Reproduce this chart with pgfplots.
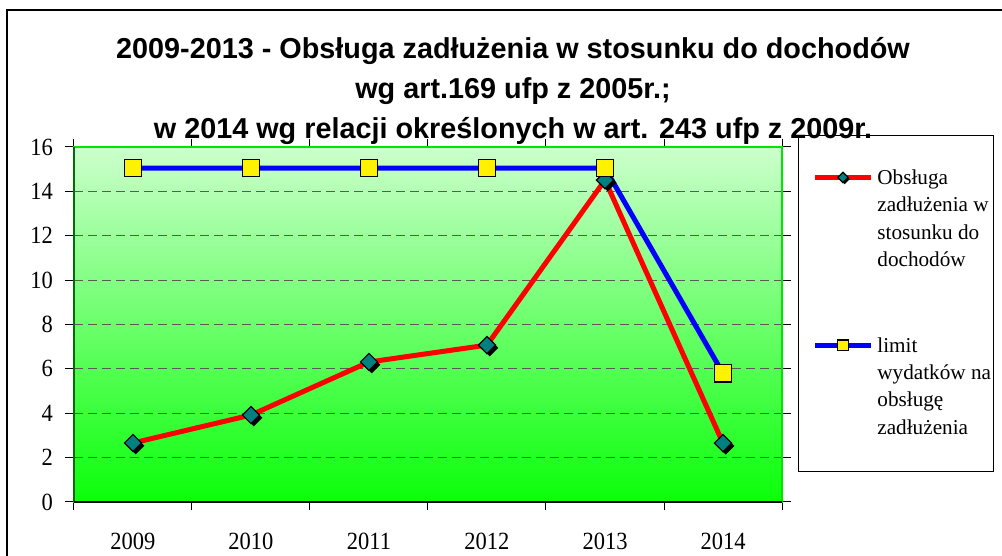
\documentclass[border=0pt]{standalone}
\usepackage{graphicx}
\usepackage{pgfplots}
\pgfplotsset{compat=1.18}
\usepackage{fontspec}
\setmainfont{Liberation Serif}
\newfontfamily\titlefont{Liberation Sans}

\definecolor{tealm}{RGB}{0,128,128}
\definecolor{bgtop}{RGB}{204,255,204}
\definecolor{bgmid}{RGB}{115,255,115}
\definecolor{bgbot}{RGB}{10,255,10}
\definecolor{frameg}{RGB}{0,230,0}
\definecolor{leftg}{RGB}{0,110,0}

% tick labels in the reference are a little taller than wide
\newcommand\st[1]{\scalebox{1}[1.1]{#1}}

% diamond with a black drop shadow, like the spreadsheet marker
\pgfdeclareplotmark{shdiamond}{%
  \pgfsetfillcolor{black}%
  \pgfpathmoveto{\pgfpoint{0.32*\pgfplotmarksize}{0.68*\pgfplotmarksize}}%
  \pgfpathlineto{\pgfpoint{1.32*\pgfplotmarksize}{-0.32*\pgfplotmarksize}}%
  \pgfpathlineto{\pgfpoint{0.32*\pgfplotmarksize}{-1.32*\pgfplotmarksize}}%
  \pgfpathlineto{\pgfpoint{-0.68*\pgfplotmarksize}{-0.32*\pgfplotmarksize}}%
  \pgfpathclose
  \pgfusepathqfill
  \pgfsetfillcolor{tealm}%
  \pgfpathmoveto{\pgfpoint{0pt}{\pgfplotmarksize}}%
  \pgfpathlineto{\pgfpoint{\pgfplotmarksize}{0pt}}%
  \pgfpathlineto{\pgfpoint{0pt}{-\pgfplotmarksize}}%
  \pgfpathlineto{\pgfpoint{-\pgfplotmarksize}{0pt}}%
  \pgfpathclose
  \pgfusepathqfillstroke
}

\begin{document}
\begin{tikzpicture}[x=0.5pt,y=0.5pt]
% picture measured in reference pixels, y counted from the bottom
\useasboundingbox (0,0) rectangle (1002,556);
\draw[line width=0.6pt] (7,-20) -- (7,546) -- (1020,546);

\begin{axis}[
    at={(37pt,27pt)}, anchor=south west,
    scale only axis,
    width=354pt, height=177.5pt,
    xmin=-0.5, xmax=5.5,
    ymin=0, ymax=16,
    clip=false,
    xtick={0,1,2,3,4,5},
    xticklabels={\st{2009},\st{2010},\st{2011},\st{2012},\st{2013},\st{2014}},
    minor xtick={-0.5,0.5,1.5,2.5,3.5,4.5,5.5},
    ytick={0,2,4,6,8,10,12,14,16},
    yticklabels={\st{0},\st{2},\st{4},\st{6},\st{8},\st{10},\st{12},\st{14},\st{16}},
    tick align=outside,
    major tick length=4.5pt, minor tick length=4pt,
    major x tick style={draw=none},
    minor x tick style={black, line width=0.5pt},
    y tick style={black, line width=0.5pt},
    tick label style={font=\fontsize{11.25}{13}\selectfont},
    xticklabel style={yshift=-7.5pt},
    yticklabel style={xshift=-2.5pt},
    ymajorgrids,
    grid style={black!65, line width=0.5pt, dash pattern=on 4.5pt off 2.5pt},
    axis line style={frameg, line width=0.8pt},
    axis background/.style={top color=bgtop, middle color=bgmid, bottom color=bgbot},
    legend style={
        at={(rel axis cs:1.0424,0.937)}, anchor=north west,
        draw=none, fill=none, inner sep=0pt,
        row sep=75pt, column sep=2pt,
        font=\fontsize{10.6}{13.7}\selectfont,
        nodes={inner sep=0pt},
        cells={anchor=base west}
    },
    legend image code/.code={
        \draw[mark repeat=2, mark phase=2, mark size=2.6pt]
            plot coordinates {(0pt,3.5pt) (14pt,3.5pt) (28pt,3.5pt)};
    },
]

% legend frame
\draw[black, line width=0.5pt, fill=white]
    (rel axis cs:1.024,1.031) rectangle (rel axis cs:1.2994,0.0845);

\addplot[red, line width=2.5pt,
    mark=shdiamond, mark size=4.3pt,
    mark options={draw=black, line width=0.6pt}]
    coordinates {(0,2.66) (1,3.92) (2,6.31) (3,7.07) (4,14.51) (5,2.65)};
\addlegendentry{\parbox[t]{58pt}{\raggedright Obsługa\\zadłużenia w\\stosunku do\\dochodów}}

\addplot[blue, line width=2.5pt,
    mark=square*, mark size=4.3pt,
    mark options={fill=yellow, draw=black, line width=0.6pt}]
    coordinates {(0,15.05) (1,15.05) (2,15.05) (3,15.05) (4,15.05) (5,5.8)};
\addlegendentry{\parbox[t]{58pt}{\raggedright limit\\wydatków na\\obsługę\\zadłużenia}}

\draw[leftg, line width=0.8pt] (rel axis cs:0,1) -- (rel axis cs:0,0);
\draw[black, line width=0.8pt] (rel axis cs:0,0) -- (rel axis cs:1,0);
\end{axis}

\node[align=center, font=\titlefont\bfseries\fontsize{14.4}{20}\selectfont]
    at (513,465)
    {2009-2013 - Obsługa zadłużenia w stosunku do dochodów\\
     wg art.169 ufp z 2005r.;\\
     w 2014 wg relacji określonych w art. 243 ufp z 2009r.};
\end{tikzpicture}
\end{document}
